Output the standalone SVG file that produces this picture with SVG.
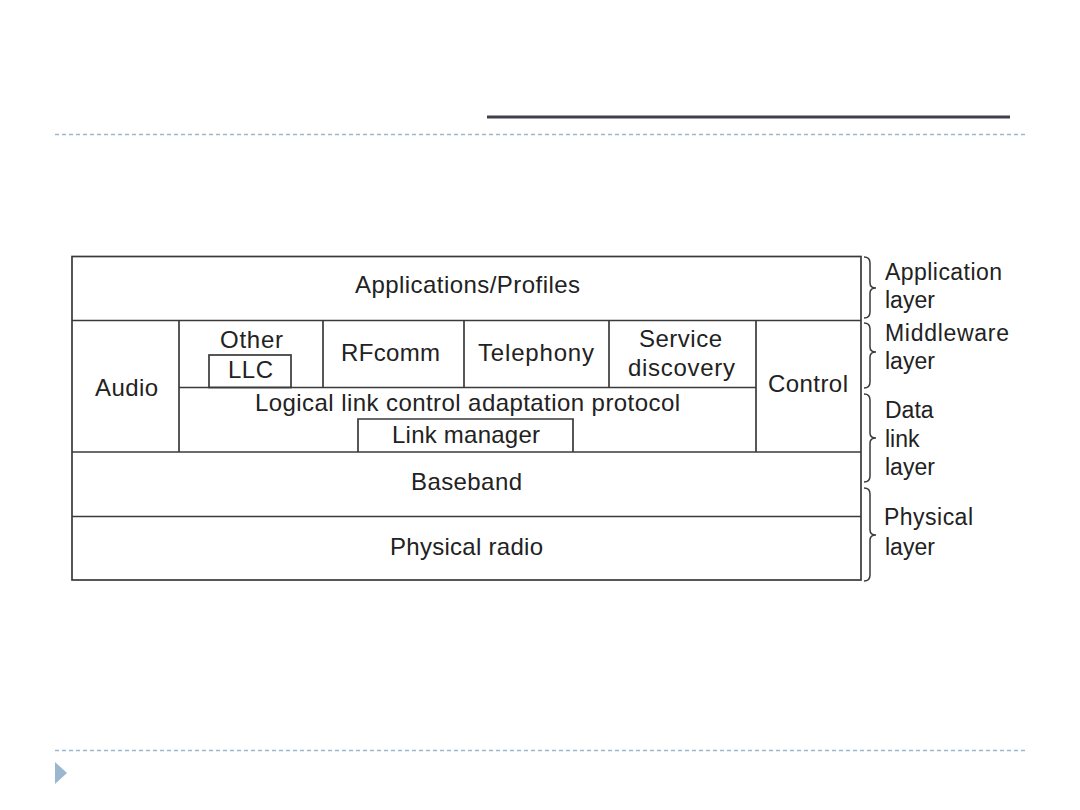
<svg xmlns="http://www.w3.org/2000/svg" width="1080" height="810" viewBox="0 0 1080 810">
<style>
.t{font-family:"Liberation Sans",Arial,sans-serif;font-size:24px;fill:#222;text-anchor:middle}
.r{font-family:"Liberation Sans",Arial,sans-serif;font-size:23px;fill:#222}
.ln{stroke:#3a3a3a;stroke-width:1.7;fill:none}
.br{stroke:#3a3a3a;stroke-width:1.5;fill:none}
.dash{stroke:#9bb7cf;stroke-width:1.5;stroke-dasharray:4 3}
</style>
<rect width="1080" height="810" fill="#fff"/>
<g id="header">
<line x1="487" y1="117" x2="1010" y2="117" stroke="#40404c" stroke-width="3"/>
<line class="dash" x1="55" y1="134.5" x2="1027" y2="134.5"/>
<line class="dash" x1="55" y1="750.5" x2="1027" y2="750.5" stroke-width="1.2"/>
<polygon points="55,762 67,773 55,784" fill="#9bb7cf"/>
</g>
<g id="stack">
<rect class="ln" x="72" y="256.5" width="789" height="323.5"/>
<g id="connectors">
<line class="ln" x1="72" y1="320.5" x2="861" y2="320.5"/>
<line class="ln" x1="72" y1="452" x2="861" y2="452"/>
<line class="ln" x1="72" y1="516.5" x2="861" y2="516.5"/>
<line class="ln" x1="179" y1="320.5" x2="179" y2="452"/>
<line class="ln" x1="756" y1="320.5" x2="756" y2="452"/>
<line class="ln" x1="179" y1="387.5" x2="756" y2="387.5"/>
<line class="ln" x1="323" y1="320.5" x2="323" y2="387.5"/>
<line class="ln" x1="464" y1="320.5" x2="464" y2="387.5"/>
<line class="ln" x1="609" y1="320.5" x2="609" y2="387.5"/>
<path class="br" d="M864,257 Q870,257 870,263 L870,283 Q870,288 876,288 Q870,288 870,293 L870,312 Q870,318 864,318"/>
<path class="br" d="M864,323 Q870,323 870,329 L870,347 Q870,352 876,352 Q870,352 870,357 L870,382 Q870,388 864,388"/>
<path class="br" d="M864,394 Q870,394 870,400 L870,433 Q870,438 876,438 Q870,438 870,443 L870,476 Q870,482 864,482"/>
<path class="br" d="M864,488 Q870,488 870,494 L870,530 Q870,535 876,535 Q870,535 870,540 L870,575 Q870,581 864,581"/>
</g>
<g id="applications"><text class="t" x="467.5" y="293" textLength="225">Applications/Profiles</text></g>
<g id="audio"><text class="t" x="126.5" y="396" textLength="63">Audio</text></g>
<g id="other"><text class="t" x="251.5" y="348" textLength="63">Other</text></g>
<g id="llc"><rect class="ln" x="209" y="355" width="82" height="32.5"/><text class="t" x="250.5" y="378" textLength="45">LLC</text></g>
<g id="rfcomm"><text class="t" x="390.5" y="361" textLength="99">RFcomm</text></g>
<g id="telephony"><text class="t" x="536" y="361" textLength="116">Telephony</text></g>
<g id="service"><text class="t" x="680.5" y="347" textLength="83">Service</text><text class="t" x="681.5" y="376" textLength="107">discovery</text></g>
<g id="control"><text class="t" x="808" y="392" textLength="80">Control</text></g>
<g id="l2cap"><text class="t" x="467.5" y="411" textLength="425">Logical link control adaptation protocol</text></g>
<g id="linkmanager"><path class="ln" d="M358,452 L358,419 L573,419 L573,452"/><text class="t" x="466" y="443" textLength="148">Link manager</text></g>
<g id="baseband"><text class="t" x="466.5" y="490" textLength="111">Baseband</text></g>
<g id="radio"><text class="t" x="466.5" y="555" textLength="153">Physical radio</text></g>
</g>
<g id="labels">
<text class="r" x="885" y="280" textLength="117">Application</text>
<text class="r" x="885" y="308">layer</text>
<text class="r" x="885" y="341" textLength="124">Middleware</text>
<text class="r" x="885" y="369">layer</text>
<text class="r" x="885" y="418">Data</text>
<text class="r" x="885" y="447">link</text>
<text class="r" x="885" y="475">layer</text>
<text class="r" x="884" y="525" textLength="89">Physical</text>
<text class="r" x="885" y="555">layer</text>
</g>
</svg>
